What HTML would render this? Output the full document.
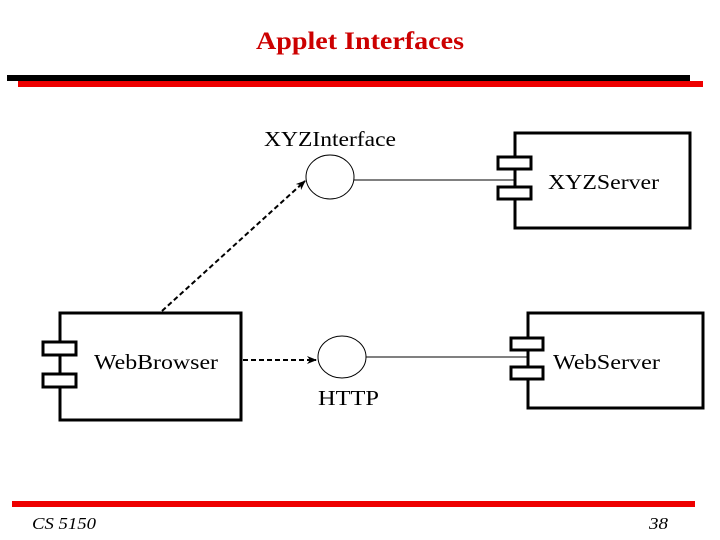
<!DOCTYPE html>
<html><head><style>
body{margin:0;width:720px;height:540px;background:#fff;overflow:hidden}
svg{display:block}
text{font-family:"Liberation Serif",serif}
</style></head><body>
<svg width="720" height="540" viewBox="0 0 720 540">
<defs><marker id="a" markerWidth="10" markerHeight="8" refX="9" refY="4" orient="auto" markerUnits="userSpaceOnUse"><path d="M0,0 L10,4 L0,8 L3,4 Z" fill="#000"/></marker></defs>
<text x="256" y="49" font-size="25" font-weight="bold" fill="#c00" textLength="208" lengthAdjust="spacingAndGlyphs">Applet Interfaces</text>
<rect x="7" y="75" width="683" height="6" fill="#000"/>
<rect x="18" y="81" width="685" height="6" fill="#e00"/>
<rect x="12" y="501" width="683" height="6" fill="#e00"/>
<text x="32" y="529" font-size="17" font-style="italic" textLength="64" lengthAdjust="spacingAndGlyphs">CS 5150</text>
<text x="649" y="529" font-size="17" font-style="italic" textLength="19" lengthAdjust="spacingAndGlyphs">38</text>
<g fill="#fff" stroke="#000" stroke-width="3">
<rect x="515" y="133" width="175" height="95"/>
<rect x="498" y="157" width="33" height="12"/>
<rect x="498" y="187" width="33" height="12"/>
<rect x="60" y="313" width="181" height="107"/>
<rect x="43" y="342" width="33" height="13"/>
<rect x="43" y="374" width="33" height="13"/>
<rect x="528" y="313" width="175" height="95"/>
<rect x="511" y="338" width="32" height="12"/>
<rect x="511" y="367" width="32" height="12"/>
</g>
<g fill="#fff" stroke="#000" stroke-width="1">
<ellipse cx="330" cy="177" rx="24" ry="22"/>
<ellipse cx="342" cy="357" rx="24" ry="21"/>
<line x1="354" y1="180" x2="514" y2="180"/>
<line x1="366" y1="357" x2="527" y2="357"/>
</g>
<g stroke="#000" stroke-width="2" stroke-dasharray="5,3" fill="none">
<line x1="162" y1="311" x2="305" y2="181" marker-end="url(#a)"/>
<line x1="243" y1="360" x2="316" y2="360" marker-end="url(#a)"/>
</g>
<text x="264" y="146" font-size="21" textLength="132" lengthAdjust="spacingAndGlyphs">XYZInterface</text>
<text x="548" y="189" font-size="21" textLength="111" lengthAdjust="spacingAndGlyphs">XYZServer</text>
<text x="94" y="369" font-size="21" textLength="124" lengthAdjust="spacingAndGlyphs">WebBrowser</text>
<text x="553" y="369" font-size="21" textLength="107" lengthAdjust="spacingAndGlyphs">WebServer</text>
<text x="318" y="405" font-size="21" textLength="61" lengthAdjust="spacingAndGlyphs">HTTP</text>
</svg>
</body></html>
